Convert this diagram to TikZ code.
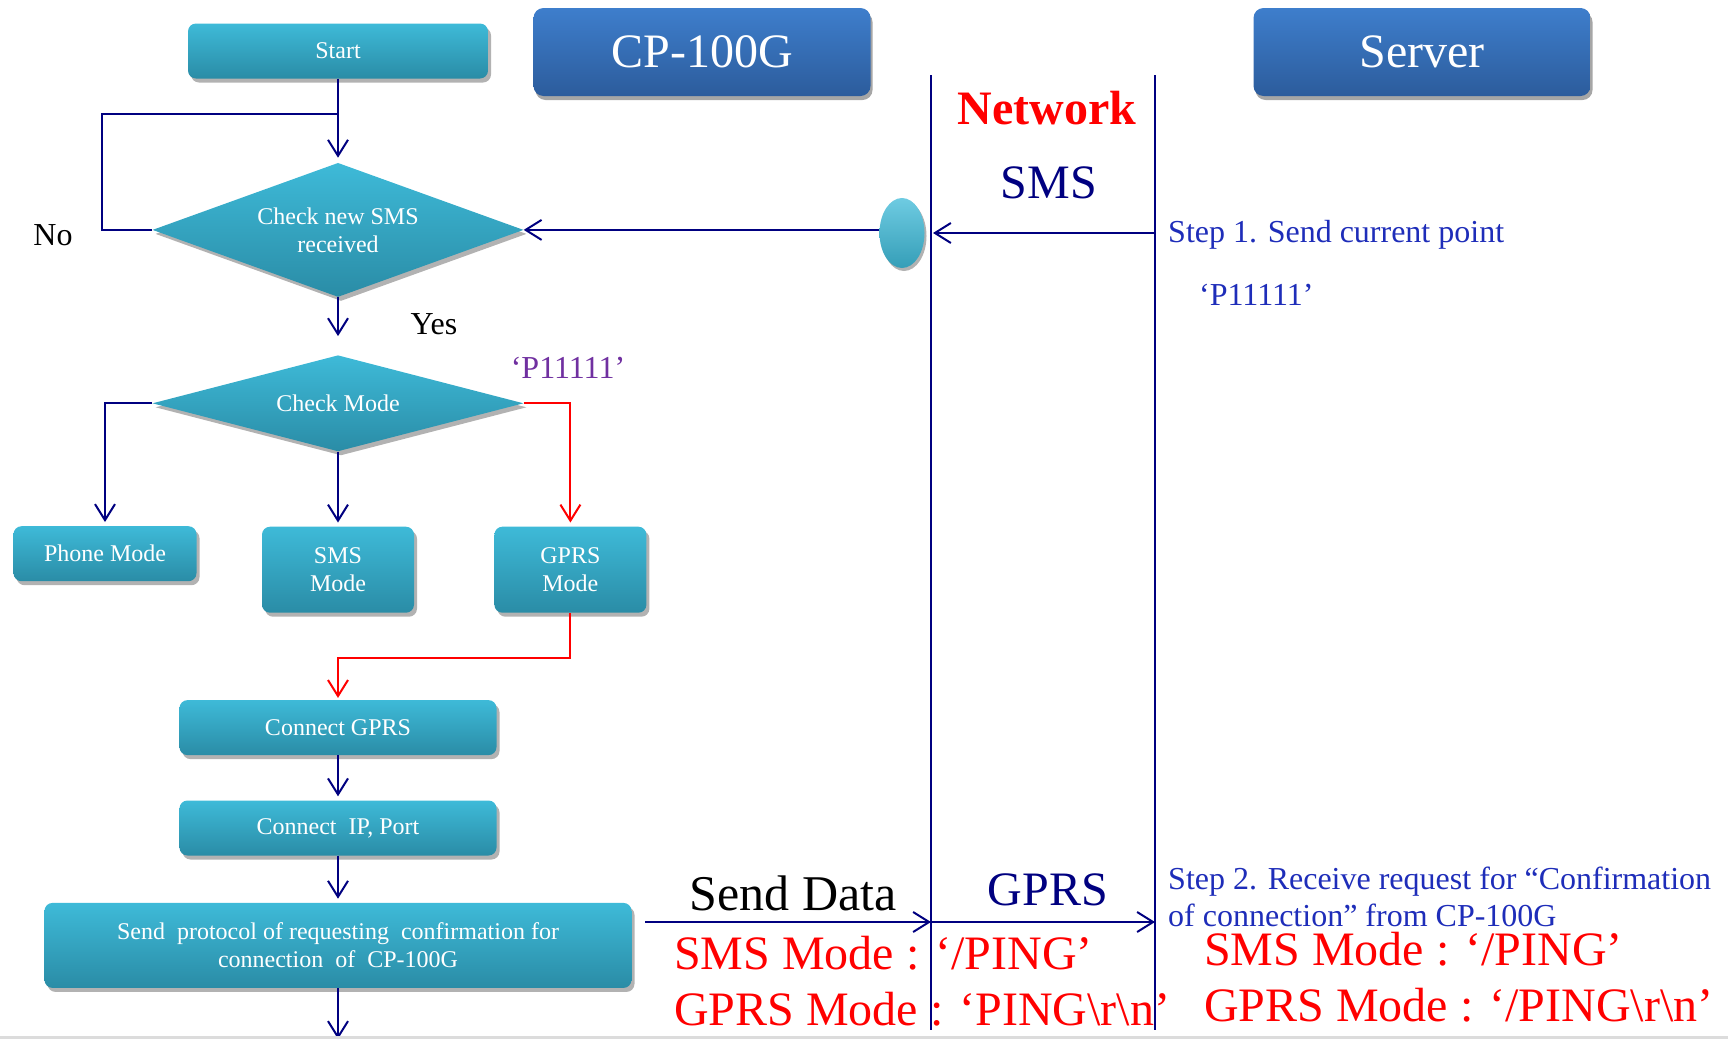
\documentclass[tikz,border=0pt]{standalone}
\usepackage{fontspec}
\setmainfont{Liberation Serif}
\usetikzlibrary{
  arrows.meta,
  positioning,
  shapes.geometric,
  shadows
}
\definecolor{cptealtop}{RGB}{62,186,216}
\definecolor{cptealbot}{RGB}{42,140,166}
\definecolor{cpbluetop}{RGB}{62,126,204}
\definecolor{cpbluebot}{RGB}{44,92,156}
\definecolor{cpnavy}{RGB}{0,0,128}
\definecolor{cpstep}{RGB}{30,45,185}
\definecolor{cppurple}{RGB}{112,48,160}
\definecolor{cpred}{RGB}{255,0,0}
\definecolor{cprule}{RGB}{220,220,220}

\begin{document}
\begin{tikzpicture}[x=1pt, y=-1pt,
      flow/.style={
        rectangle, rounded corners=8pt, inner sep=0pt,
        top color=cptealtop, bottom color=cptealbot,
        font=\fontsize{24}{28}\selectfont, text=white, align=center,
        drop shadow={shadow xshift=3pt, shadow yshift=-4pt, fill=black, opacity=0.3}
      },
      decision/.style={
        diamond, inner sep=0pt,
        top color=cptealtop, bottom color=cptealbot,
        font=\fontsize{24}{28}\selectfont, text=white, align=center,
        drop shadow={shadow xshift=3pt, shadow yshift=-4pt, fill=black, opacity=0.3}
      },
      header/.style={
        rectangle, rounded corners=10pt,
        minimum width=337pt, minimum height=88pt,
        top color=cpbluetop, bottom color=cpbluebot,
        font=\fontsize{48}{56}\selectfont, text=white,
        drop shadow={shadow xshift=2pt, shadow yshift=-4pt, fill=black, opacity=0.35}
      },
      ballnode/.style={
        ellipse, inner sep=0pt, minimum width=45pt, minimum height=70pt,
        top color=cptealtop!75!white, bottom color=cptealtop!85!black,
        drop shadow={shadow xshift=2pt, shadow yshift=-3pt, fill=black, opacity=0.3}
      },
      arrow/.style={-{Straight Barb[length=16pt, width=20pt]}, line width=2pt, cpnavy},
      rarrow/.style={arrow, cpred},
      lane/.style={line width=2pt, cpnavy},
      bigtxt/.style={font=\fontsize{48}{56}\selectfont, inner sep=0pt},
      steptxt/.style={font=\fontsize{32}{37}\selectfont, text=cpstep, inner sep=0pt, anchor=west, align=left}
    ]
      \useasboundingbox (0,0) rectangle (1728,1039);

      % Headers
      \node[header] (cp) at (702,52) {CP-100G};
      \node[header] (server) at (1422,52) {Server};

      % Network lanes
      \coordinate (nl-top) at (931,75);
      \coordinate (nl-bot) at (931,1030);
      \coordinate (nr-top) at (1155,75);
      \coordinate (nr-bot) at (1155,1030);
      \draw[lane] (nl-top) -- (nl-bot);
      \draw[lane] (nr-top) -- (nr-bot);
      \node[bigtxt, font=\bfseries\fontsize{48}{56}\selectfont, text=cpred] (network) at (1047,108) {Network};
      \node[bigtxt, text=cpnavy] (smsnet) at (1049,183) {SMS};
      \node[bigtxt, text=cpnavy] (gprsnet) at (1048,890) {GPRS};

      % Flow chart
      \node[flow, minimum width=300pt, minimum height=55pt] (start) at (338,51) {Start};
      \node[decision, aspect=2.77, minimum width=371pt, minimum height=134pt, below=84pt of start] (chksms) {Check new SMS\\received};
      \node[decision, aspect=3.86, minimum width=371pt, minimum height=96pt, below=58pt of chksms] (chkmode) {Check Mode};
      \node[flow, minimum width=152pt, minimum height=86pt, below=75pt of chkmode] (smsmode) {SMS\\Mode};
      \node[flow, minimum width=152pt, minimum height=86pt, right=80pt of smsmode] (gprsmode) {GPRS\\Mode};
      \node[flow, minimum width=183pt, minimum height=55pt, anchor=north] (phone) at (105,526) {Phone Mode};
      \node[flow, minimum width=317pt, minimum height=55pt, below=87pt of smsmode] (cgprs) {Connect GPRS};
      \node[flow, minimum width=317pt, minimum height=55pt, below=45pt of cgprs] (cip) {Connect~ IP, Port};
      \node[flow, minimum width=587pt, minimum height=85pt, below=47pt of cip] (sendp) {Send~ protocol of requesting~ confirmation for\\connection~ of~ CP-100G};

      % Side ball
      \node[ballnode] (rx) at (902,233) {};

      % Labels
      \node[font=\fontsize{32}{37}\selectfont] (no) at (53,235) {No};
      \node[font=\fontsize{32}{37}\selectfont] (yes) at (434,324) {Yes};
      \node[font=\fontsize{32}{37}\selectfont, text=cppurple] (pcode) at (568,368) {‘P11111’};
      \node[bigtxt, font=\fontsize{50}{60}\selectfont] (senddata) at (793,893) {Send Data};
      \node[steptxt] (step1) at (1168,235) {Step 1. Send current point};
      \node[steptxt] (step1code) at (1199,295) {‘P11111’};
      \node[steptxt] (step2) at (1168,897) {Step 2. Receive request for “Confirmation\\of connection” from CP-100G};
      \node[bigtxt, text=cpred, anchor=west, align=left] (leftping) at (674,981)
        {SMS Mode : ‘/PING’\\GPRS Mode : ‘PING\textbackslash r\textbackslash n’};
      \node[bigtxt, text=cpred, anchor=west, align=left] (rightping) at (1204,977)
        {SMS Mode : ‘/PING’\\GPRS Mode : ‘/PING\textbackslash r\textbackslash n’};

      % Arrows
      \coordinate (loop) at (338,114);
      \draw[arrow, shorten >=5pt] (start) -- (chksms);
      \draw[lane] (chksms.west) -- ++(-50,0) |- (loop);
      \draw[arrow, shorten >=19pt] (chksms) -- (chkmode);
      \draw[arrow, shorten >=4pt] (chkmode.west) -| (phone.north);
      \draw[arrow, shorten >=4pt] (chkmode) -- (smsmode);
      \draw[rarrow, shorten >=4pt] (chkmode.east) -| (gprsmode.north);
      \draw[rarrow, shorten >=2pt] (gprsmode.south) -- ++(0,45) -| (cgprs.north);
      \draw[arrow, shorten >=4pt] (cgprs) -- (cip);
      \draw[arrow, shorten >=4pt] (cip) -- (sendp);
      \coordinate (bottom) at (338,1039);
      \draw[arrow] (sendp) -- (bottom);

      \draw[arrow, shorten >=2pt] (nr-top |- rx) -- (nl-top |- rx);
      \draw[arrow] (rx.west |- chksms.east) -- (chksms.east);
      \coordinate (sd) at (645,922);
      \draw[arrow] (sd) -- (nl-top |- sd);
      \draw[arrow] (nl-top |- sd) -- (nr-top |- sd);

      % Bottom rule
      \draw[cprule, line width=3pt] (0,1037) -- (1728,1037);
    \end{tikzpicture}
\end{document}
